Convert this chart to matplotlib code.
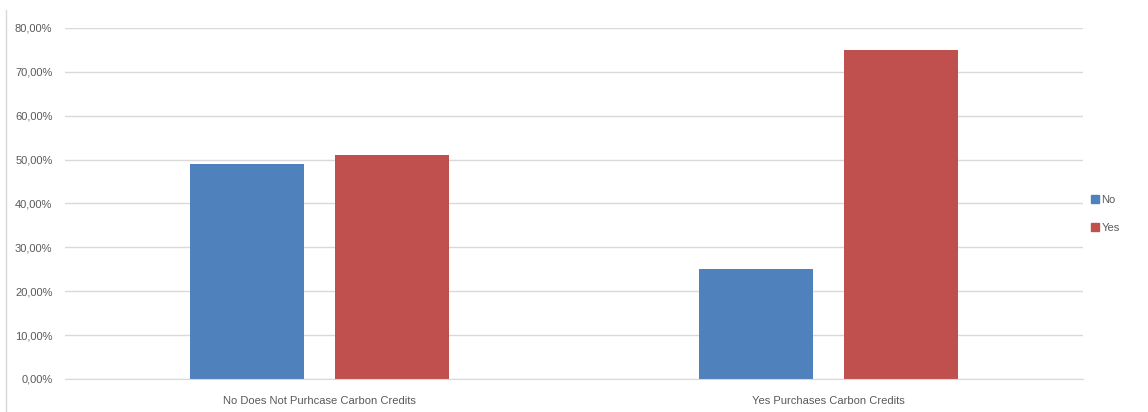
import matplotlib.pyplot as plt
from matplotlib.lines import Line2D
from matplotlib.ticker import FuncFormatter
import numpy as np

categories = ['No Does Not Purhcase Carbon Credits', 'Yes Purchases Carbon Credits']
series_names = ['No', 'Yes']
no_values = [49.0, 25.0]
yes_values = [51.0, 75.0]
yticks = [0, 10, 20, 30, 40, 50, 60, 70, 80]

colors = ['#4f81bd', '#c0504d']
text_color = '#595959'
plt.rcParams['font.family'] = ['Liberation Sans', 'DejaVu Sans']

fig = plt.figure(figsize=(11.48, 4.12), dpi=100)
ax = fig.add_axes([0.0566, 0.0801, 0.8868, 0.852])

x = np.arange(len(categories))
width = 0.224
offset = 0.143
ax.bar(x - offset, no_values, width, color=colors[0], zorder=2)
ax.bar(x + offset, yes_values, width, color=colors[1], zorder=2)

ax.set_xlim(-0.5, len(categories) - 0.5)
ax.set_ylim(0, 80)
ax.set_yticks(yticks)
ax.yaxis.set_major_formatter(FuncFormatter(lambda v, p: f'{v:.2f}%'.replace('.', ',')))
ax.set_xticks(x)
ax.set_xticklabels(categories)
ax.tick_params(axis='both', length=0, labelsize=8, colors=text_color)
ax.tick_params(axis='y', pad=9)
ax.tick_params(axis='x', pad=12)

ax.grid(axis='y', color='#d9d9d9', linewidth=1, zorder=0)
for side in ['top', 'right', 'left']:
    ax.spines[side].set_visible(False)
ax.spines['bottom'].set_color('#d9d9d9')

# thin border on the left edge of the chart
fig.add_artist(Line2D([0.0052, 0.0052], [0.0, 0.975], color='#d9d9d9', linewidth=1))

handles = [Line2D([], [], marker='s', linestyle='none', markersize=6,
                  markerfacecolor=c, markeredgecolor=c) for c in colors]
leg = fig.legend(handles, series_names, loc='center left', bbox_to_anchor=(0.941, 0.48),
                 frameon=False, fontsize=8, handletextpad=0.2, labelspacing=1.6,
                 handlelength=0.8)
for t in leg.get_texts():
    t.set_color(text_color)

fig.savefig('out.png', dpi=100)
